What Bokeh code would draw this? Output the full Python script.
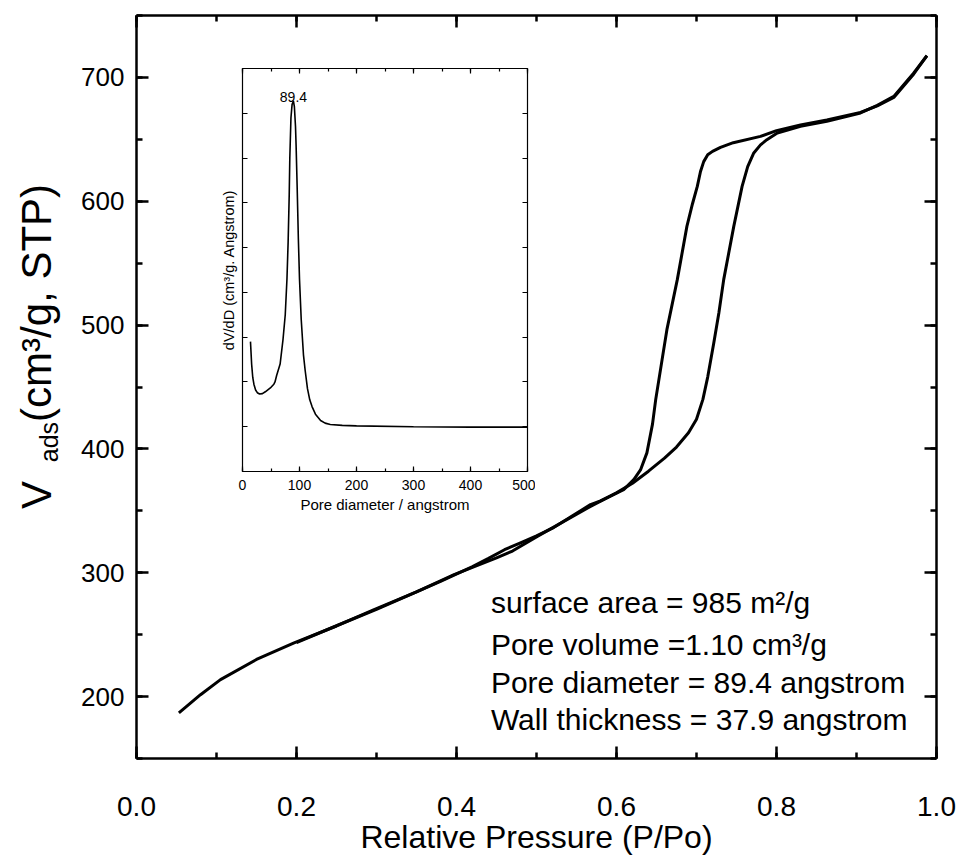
import math
from bokeh.plotting import figure
from bokeh.models import Range1d, LinearAxis, SingleIntervalTicker, PrintfTickFormatter, Label
from bokeh.embed import file_html
from bokeh.resources import INLINE
from bokeh.core.properties import value

FONT = "Liberation Sans"

# ---------------- data ----------------
# adsorption branch (P/Po, V_ads)
ads_p = [0.053, 0.08, 0.105, 0.15, 0.197, 0.25, 0.297, 0.35, 0.397, 0.45, 0.47, 0.501,
         0.5675, 0.60, 0.62, 0.64, 0.66, 0.675, 0.69, 0.70, 0.708, 0.714, 0.7216, 0.728,
         0.734, 0.7466, 0.757, 0.764, 0.7716, 0.78, 0.788, 0.801, 0.83, 0.863, 0.905,
         0.926, 0.9466, 0.9716, 0.988]
ads_v = [186.8, 201.5, 213.7, 230.0, 243.4, 257.0, 270.2, 284.5, 298.5, 312.0, 317.5, 329.4,
         353.6, 364.5, 372.3, 382.0, 392.5, 401.5, 413.0, 424.0, 440.0, 458.0, 485.6, 510.0,
         536.7, 579.7, 612.0, 628.0, 639.0, 645.5, 649.7, 655.1, 660.5, 664.5, 671.3,
         677.5, 684.7, 703.6, 717.5]
# desorption branch (P/Po, V_ads)
des_p = [0.988, 0.9716, 0.9466, 0.926, 0.905, 0.863, 0.83, 0.80, 0.78, 0.746, 0.73,
         0.72, 0.714, 0.709, 0.705, 0.701, 0.695, 0.688, 0.676, 0.663, 0.657, 0.649,
         0.645, 0.638, 0.63, 0.6216, 0.609, 0.58, 0.5675, 0.55, 0.52, 0.50, 0.48, 0.46,
         0.44, 0.42, 0.38, 0.35, 0.30, 0.25, 0.20]
des_v = [717.5, 702.8, 683.8, 677.0, 671.8, 665.6, 661.6, 657.0, 652.4, 647.3, 643.5,
         640.3, 637.5, 632.0, 624.0, 612.0, 598.0, 579.7, 536.7, 496.3, 472.1, 439.8,
         420.0, 396.8, 383.0, 375.2, 367.1, 358.0, 355.0, 348.0, 336.0, 329.8, 324.2,
         318.6, 311.6, 305.0, 293.0, 284.6, 270.4, 257.2, 243.6]
# inset: pore size distribution (D in angstrom, dV/dD arbitrary units)
psd_d = [14, 16, 18, 20, 23, 26, 30, 35, 40, 45, 50, 55, 57, 60, 66, 71, 75, 78, 80,
         82, 83, 85, 87, 89.4, 91, 93, 94, 96, 98, 100, 103, 107, 110, 114, 118, 122,
         128, 137, 145, 154, 175, 200, 300, 400, 500]
psd_v = [2.9, 2.4, 2.1, 1.95, 1.82, 1.76, 1.73, 1.74, 1.78, 1.83, 1.88, 1.95, 2.0,
         2.15, 2.4, 2.94, 3.5, 4.3, 5.1, 6.2, 7.0, 7.9, 8.2, 8.27, 8.15, 7.7, 7.3, 6.3,
         5.2, 4.3, 3.4, 2.6, 2.25, 1.85, 1.6, 1.45, 1.28, 1.14, 1.08, 1.05, 1.03, 1.02,
         1.0, 0.99, 0.99]
peak_d = 89.4
peak_v = 8.27

info_lines = ["surface area = 985 m\u00b2/g",
              "Pore volume =1.10 cm\u00b3/g",
              "Pore diameter = 89.4 angstrom",
              "Wall thickness = 37.9 angstrom"]
info_y = [275.9, 242.0, 211.3, 181.4]
info_x = 0.443

x_title = "Relative Pressure (P/Po)"
ylab_pieces = ["V", "ads", "(cm\u00b3/g, STP)"]

# ---------------- helpers ----------------
W1000 = {"V": 667, "a": 556, "d": 556, "s": 500, " ": 278, "(": 333, "c": 500, "m": 833,
         "\u00b3": 333, "/": 278, "g": 556, ",": 278, "S": 667, "T": 611, "P": 667, ")": 333}


def text_w(t, size):
    return sum(W1000.get(ch, 556) for ch in t) * size / 1000.0


def style_axis(ax, tick_in, minor_in, lw, lab_size, axlab_size, show_labels=True):
    ax.major_tick_in = tick_in
    ax.major_tick_out = 0
    ax.minor_tick_in = minor_in
    ax.minor_tick_out = 0
    ax.axis_line_width = lw
    ax.major_tick_line_width = lw
    ax.minor_tick_line_width = lw
    ax.axis_line_color = "black"
    ax.major_tick_line_color = "black"
    ax.minor_tick_line_color = "black"
    ax.major_label_text_font = FONT
    ax.major_label_text_font_size = lab_size
    ax.major_label_text_color = "black" if show_labels else None
    ax.axis_label_text_font = FONT
    ax.axis_label_text_font_size = axlab_size
    ax.axis_label_text_font_style = "normal"
    ax.axis_label_text_color = "black"


def overlay(w, h, left, top):
    f = figure(width=w, height=h, x_range=Range1d(0, 1), y_range=Range1d(0, 1),
               output_backend="svg", toolbar_location=None,
               min_border_left=0, min_border_right=0, min_border_top=0, min_border_bottom=0,
               x_axis_location=None, y_axis_location=None)
    f.grid.grid_line_color = None
    f.outline_line_color = None
    f.border_fill_alpha = 0
    f.background_fill_alpha = 0
    f.styles = {"position": "absolute", "left": f"{left}px", "top": f"{top}px"}
    return f


# ---------------- main figure ----------------
p = figure(width=957, height=857, x_range=Range1d(0, 1), y_range=Range1d(150, 750),
           output_backend="svg", toolbar_location=None,
           min_border_left=136, min_border_right=21, min_border_top=15, min_border_bottom=99)
p.grid.grid_line_color = None
p.outline_line_color = None

xt = SingleIntervalTicker(interval=0.2, num_minor_ticks=2)
yt = SingleIntervalTicker(interval=100, num_minor_ticks=2)

bx = p.xaxis[0]
bx.ticker = xt
bx.formatter = PrintfTickFormatter(format="%.1f")
style_axis(bx, 12, 6, 2.5, "28px", "32px")
bx.major_label_standoff = 38

ly = p.yaxis[0]
ly.ticker = yt
style_axis(ly, 12, 6, 2.5, "26px", "32px")
ly.major_label_standoff = 12

tx = LinearAxis(ticker=xt)
style_axis(tx, 12, 6, 2.5, "1px", "1px", show_labels=False)
tx.major_label_standoff = 0
p.add_layout(tx, "above")
ry = LinearAxis(ticker=yt)
style_axis(ry, 12, 6, 2.5, "1px", "1px", show_labels=False)
ry.major_label_standoff = 0
p.add_layout(ry, "right")

p.line(ads_p, ads_v, line_color="black", line_width=3)
p.line(des_p, des_v, line_color="black", line_width=3)

p.text(x=[info_x] * len(info_lines), y=info_y, text=info_lines,
       text_font=value(FONT), text_font_size="30px", text_color="black",
       text_align="left", text_baseline="alphabetic")
p.styles = {"position": "absolute", "left": "0px", "top": "0px"}

# ---------------- x-axis title overlay ----------------
XL_W, XL_H, XL_TOP = 600, 53, 804
xl = overlay(XL_W, XL_H, 536 - XL_W // 2, XL_TOP)
xl.text(x=[0.5], y=[1 - (836 - XL_TOP) / XL_H], text=[x_title],
        text_font=value(FONT), text_font_size="32px", text_color="black",
        text_align="center", text_baseline="middle")

# ---------------- y-axis title overlay (subscript needs separate pieces) ----------------
YS = 42
sizes = [YS, round(YS * 0.6), YS]
shifts = [0, 12, 0]
gaps = [0, 0.45 * YS, 0]          # word space before "(cm3/g, STP)"
YL_W, YL_H = 90, 470
yl = overlay(YL_W, YL_H, 0, 346 - YL_H // 2)
total = sum(text_w(t, s) for t, s in zip(ylab_pieces, sizes)) + sum(gaps)
off = total / 2
cap_center_x = 36
for t, s, sh, g in zip(ylab_pieces, sizes, shifts, gaps):
    off -= g
    yl.text(x=[0.5], y=[0.5], text=[t], angle=math.pi / 2,
            x_offset=cap_center_x - YL_W / 2 + sh, y_offset=off,
            text_font=value(FONT), text_font_size=f"{s}px", text_color="black",
            text_align="left", text_baseline="middle")
    off -= text_w(t, s)

# ---------------- inset figure ----------------
ins = figure(width=323, height=460, x_range=Range1d(0, 500), y_range=Range1d(0, 9),
             output_backend="svg", toolbar_location=None,
             min_border_left=30, min_border_right=8, min_border_top=6, min_border_bottom=51)
ins.grid.grid_line_color = None
ins.outline_line_color = None

ixt = SingleIntervalTicker(interval=100, num_minor_ticks=2)
iyt = SingleIntervalTicker(interval=1, num_minor_ticks=0)

ibx = ins.xaxis[0]
ibx.ticker = ixt
ibx.axis_label = "Pore diameter / angstrom"
style_axis(ibx, 5, 3, 1.2, "14px", "15px")
ibx.major_label_standoff = 8
ibx.axis_label_standoff = 3

ily = ins.yaxis[0]
ily.ticker = iyt
ily.axis_label = "dV/dD (cm\u00b3/g. Angstrom)"
style_axis(ily, 5, 3, 1.2, "1px", "14.5px", show_labels=False)
ily.major_label_standoff = 0
ily.axis_label_standoff = 6

itx = LinearAxis(ticker=ixt)
style_axis(itx, 5, 3, 1.2, "1px", "1px", show_labels=False)
itx.major_label_standoff = 0
ins.add_layout(itx, "above")
iry = LinearAxis(ticker=iyt)
style_axis(iry, 5, 3, 1.2, "1px", "1px", show_labels=False)
iry.major_label_standoff = 0
ins.add_layout(iry, "right")

ins.line(psd_d, psd_v, line_color="black", line_width=1.6)
ins.add_layout(Label(x=peak_d, y=peak_v, text=f"{peak_d}", y_offset=4,
                     text_font=FONT, text_font_size="14px", text_color="black",
                     text_align="center", text_baseline="alphabetic"))
ins.styles = {"position": "absolute", "left": "212px", "top": "62px"}

open("out.html", "w").write(file_html([p, ins, yl, xl], INLINE))
